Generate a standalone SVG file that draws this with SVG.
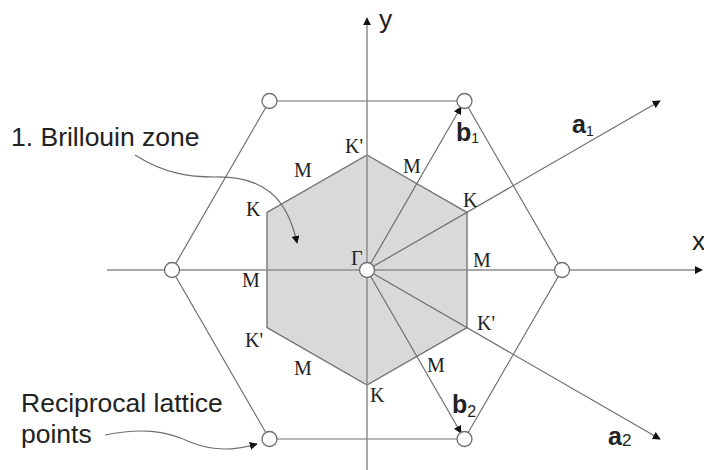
<svg xmlns="http://www.w3.org/2000/svg" width="704" height="470" viewBox="0 0 704 470">
<style>
.ln{stroke:#6e6e6e;stroke-width:1.2;fill:none}
.ax{stroke:#8c8c8c;stroke-width:1.5;fill:none}
.pt{fill:#fff;stroke:#6e6e6e;stroke-width:1.3}
.sym{font-family:"Liberation Serif","Times New Roman",serif;font-size:20px;fill:#222}
.lab{font-family:"Liberation Sans",Arial,sans-serif;font-size:26.5px;fill:#222}
.vec{font-family:"Liberation Sans",Arial,sans-serif;font-size:25px;font-weight:bold;fill:#222}
.sub{font-family:"Liberation Sans",Arial,sans-serif;font-weight:normal;fill:#222}
</style>
<defs>
<marker id="ah" viewBox="0 0 10 10" refX="9" refY="5" markerWidth="8" markerHeight="8" markerUnits="userSpaceOnUse" orient="auto">
<path d="M0,0 L10,5 L0,10 z" fill="#111"/>
</marker>
</defs>
<rect width="704" height="470" fill="#fff"/>

<g id="brillouin-zone">
<polygon points="367,155 467,212.5 467,327.5 367,385 267,327.5 267,212.5" fill="#d9d9d9" stroke="#6e6e6e" stroke-width="1.3"/>
</g>

<g id="lattice-hexagon">
<polygon class="ln" points="269.5,101 464.5,101 562,270 464.5,439 269.5,439 172,270"/>
</g>

<g id="connectors">
<line class="ax" x1="107" y1="270" x2="702" y2="270" marker-end="url(#ah)"/>
<line class="ax" x1="367" y1="470" x2="367" y2="18" marker-end="url(#ah)"/>
<line class="ln" x1="367" y1="270" x2="461" y2="107" marker-end="url(#ah)"/>
<line class="ln" x1="367" y1="270" x2="461" y2="433" marker-end="url(#ah)"/>
<line class="ln" x1="367" y1="270" x2="660" y2="101" marker-end="url(#ah)"/>
<line class="ln" x1="367" y1="270" x2="660" y2="439" marker-end="url(#ah)"/>
<path class="ln" d="M135,155 C165,174 190,177 215,177 C262,176 287,196 297,243" marker-end="url(#ah)"/>
<path class="ln" d="M105,435 C140,428 165,430 190,442 C215,452 235,450 257,444" marker-end="url(#ah)"/>
</g>

<g id="lattice-points">
<circle class="pt" cx="269.5" cy="101" r="7.5"/>
<circle class="pt" cx="464.5" cy="101" r="7.5"/>
<circle class="pt" cx="562" cy="270" r="7.5"/>
<circle class="pt" cx="464.5" cy="439" r="7.5"/>
<circle class="pt" cx="269.5" cy="439" r="7.5"/>
<circle class="pt" cx="172" cy="270" r="7.5"/>
<circle class="pt" cx="367" cy="270" r="7.5"/>
</g>

<g id="symmetry-labels">
<text class="sym" x="345" y="153">K'</text>
<text class="sym" x="294" y="177">M</text>
<text class="sym" x="403" y="173">M</text>
<text class="sym" x="246" y="216">K</text>
<text class="sym" x="463" y="207">K</text>
<text class="sym" x="351" y="265">Γ</text>
<text class="sym" x="473" y="267">M</text>
<text class="sym" x="242" y="287">M</text>
<text class="sym" x="477" y="330">K'</text>
<text class="sym" x="245" y="347">K'</text>
<text class="sym" x="294" y="375">M</text>
<text class="sym" x="427" y="372">M</text>
<text class="sym" x="370" y="402">K</text>
</g>

<g id="vector-labels">
<text class="vec" x="572" y="133">a<tspan class="sub" font-size="14" dy="3">1</tspan></text>
<text class="vec" x="456" y="141">b<tspan class="sub" font-size="14" dy="2">1</tspan></text>
<text class="vec" x="452" y="413">b<tspan class="sub" font-size="16" dy="4">2</tspan></text>
<text class="vec" x="608" y="445">a<tspan class="sub" font-size="17" dy="1">2</tspan></text>
</g>

<g id="axis-labels">
<text class="lab" x="379" y="28">y</text>
<text class="lab" x="692" y="250">x</text>
</g>

<g id="annotations">
<text class="lab" x="11" y="146">1. Brillouin zone</text>
<text class="lab" x="21" y="412">Reciprocal lattice</text>
<text class="lab" x="21" y="443">points</text>
</g>
</svg>
